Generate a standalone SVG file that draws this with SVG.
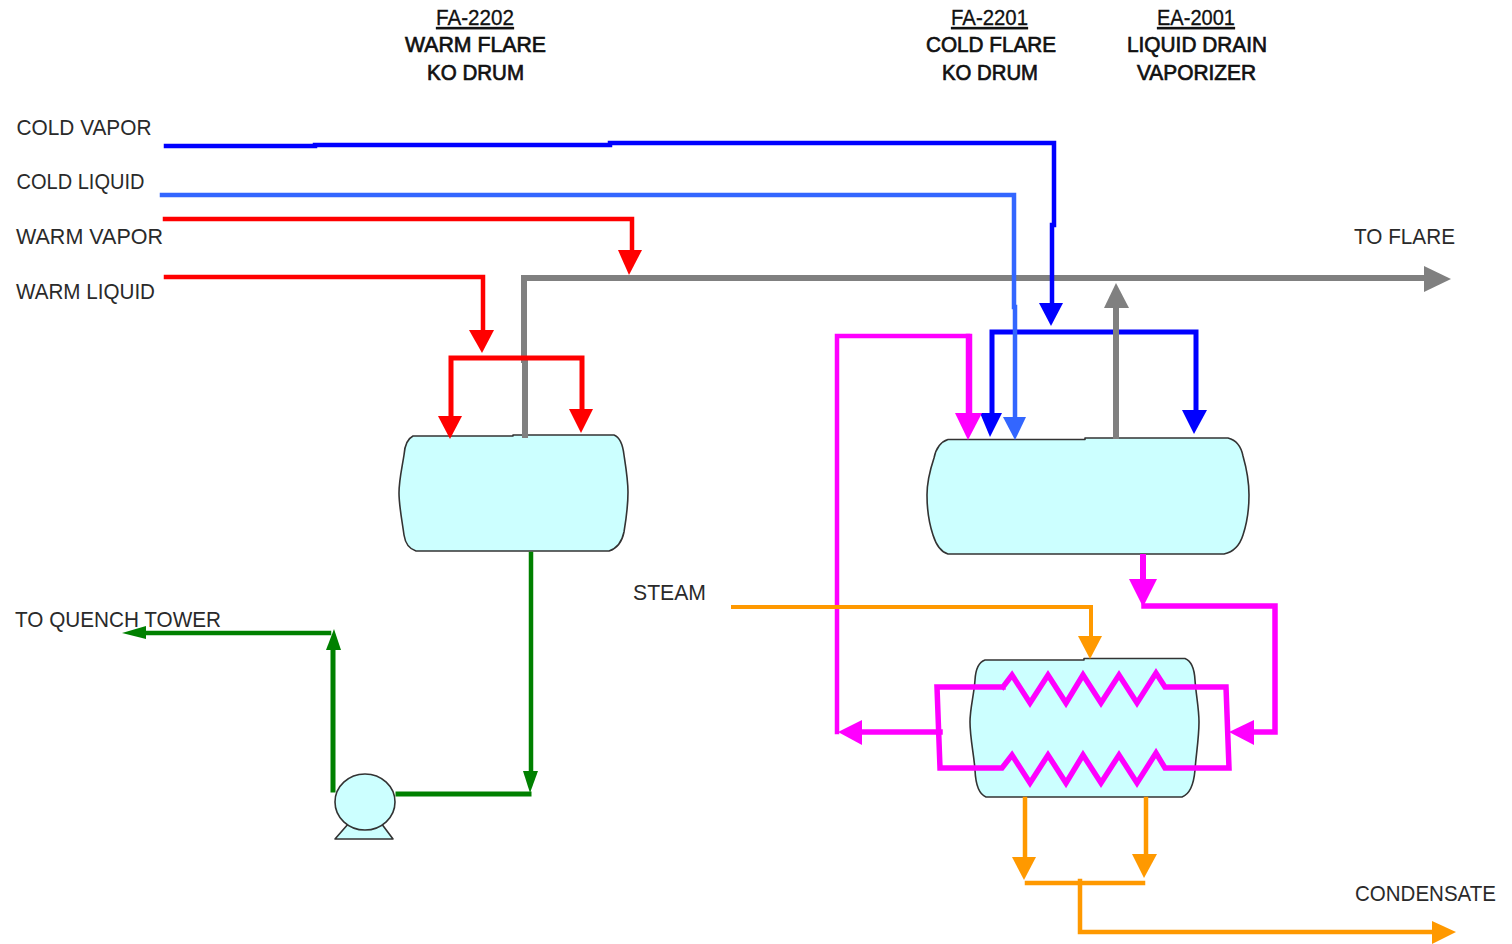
<svg xmlns="http://www.w3.org/2000/svg" width="1512" height="944" viewBox="0 0 1512 944">
<style>
text{font-family:"Liberation Sans",Arial,sans-serif;font-size:22px;fill:#2a2a2a}
.h{fill:#111;stroke:#111;stroke-width:.7}
.u{text-decoration:underline;stroke-width:.3}
.vessel{fill:#ccffff;stroke:#333;stroke-width:1.6;stroke-linejoin:round}
path.l{fill:none;stroke-linejoin:miter;stroke-linecap:square}
.red{stroke:#ff0000;fill:#ff0000}
.blue{stroke:#0000ff;fill:#0000ff}
.lblue{stroke:#3366ff;fill:#3366ff}
.grey{stroke:#808080;fill:#808080}
.pink{stroke:#ff00ff;fill:#ff00ff}
.orange{stroke:#ff9900;fill:#ff9900}
.green{stroke:#008000;fill:#008000}
polygon{stroke:none}
</style>
<rect width="1512" height="944" fill="#ffffff"/>
<g id="labels">
<g id="tag-fa2202"><text class="h u" x="436" y="25" textLength="78" lengthAdjust="spacingAndGlyphs">FA-2202</text><text class="h" x="405" y="52" textLength="141" lengthAdjust="spacingAndGlyphs">WARM FLARE</text><text class="h" x="427" y="80" textLength="97" lengthAdjust="spacingAndGlyphs">KO DRUM</text></g>
<g id="tag-fa2201"><text class="h u" x="951" y="25" textLength="77" lengthAdjust="spacingAndGlyphs">FA-2201</text><text class="h" x="926" y="52" textLength="130" lengthAdjust="spacingAndGlyphs">COLD FLARE</text><text class="h" x="942" y="80" textLength="96" lengthAdjust="spacingAndGlyphs">KO DRUM</text></g>
<g id="tag-ea2001"><text class="h u" x="1157" y="25" textLength="78" lengthAdjust="spacingAndGlyphs">EA-2001</text><text class="h" x="1127" y="52" textLength="140" lengthAdjust="spacingAndGlyphs">LIQUID DRAIN</text><text class="h" x="1137" y="80" textLength="119" lengthAdjust="spacingAndGlyphs">VAPORIZER</text></g>
<text x="16.500" y="135" textLength="135" lengthAdjust="spacingAndGlyphs">COLD VAPOR</text>
<text x="16.500" y="189" textLength="128" lengthAdjust="spacingAndGlyphs">COLD LIQUID</text>
<text x="16" y="244" textLength="147" lengthAdjust="spacingAndGlyphs">WARM VAPOR</text>
<text x="16" y="299" textLength="139" lengthAdjust="spacingAndGlyphs">WARM LIQUID</text>
<text x="1354" y="244" textLength="101" lengthAdjust="spacingAndGlyphs">TO FLARE</text>
<text x="15" y="627" textLength="206" lengthAdjust="spacingAndGlyphs">TO QUENCH TOWER</text>
<text x="633" y="600" textLength="73" lengthAdjust="spacingAndGlyphs">STEAM</text>
<text x="1355" y="901" textLength="141" lengthAdjust="spacingAndGlyphs">CONDENSATE</text>
</g>
<g id="FA-2202"><path class="vessel" d="M413,436 L513,436 L513,435 L614,435 Q622,438 624,455 C626,468 628,480 628,492 C628,506 626,520 624,532 Q621,547 609,551 L416,551 Q406,548 404,535 C402,520 399,506 399,493 C399,480 402,468 404,455 Q405,440 413,436 Z"/></g>
<g id="FA-2201"><path class="vessel" d="M948,439.500 L1085,439.500 L1085,438 L1228,438 Q1240,441 1243,456 C1247,470 1249,482 1249,495 C1249,510 1247,523 1243,535 Q1238,551 1224,554 L948,554 Q938,551 933,535 C929,523 927,510 927,495 C927,482 930,470 934,458 Q937,443 948,439.500 Z"/></g>
<g id="EA-2001"><path class="vessel" d="M985,660 L1084,660 L1084,658.500 L1185,658.500 Q1194,662 1195,680 C1196,695 1199,708 1199,722 C1199,738 1196,755 1195,770 Q1193,793 1182,797 L986,797 Q976,793 975,770 C974,755 970,738 970,722 C970,708 974,695 975,680 Q976,663 985,660 Z"/></g>
<g id="pump"><path class="vessel" d="M349,823 L335,839 L393,839 L381,823 Z"/><ellipse class="vessel" cx="365" cy="802" rx="30" ry="28"/></g>
<g id="connectors">
<g id="grey-lines" class="grey">
<path class="l" stroke-width="6" d="M525,435 L525,360 L524,360 L524,278 L1426,278"/><polygon points="1424,266 1451,279 1424,292"/>
</g>
<g id="warm-vapor" class="red"><path class="l" stroke-width="4.500" d="M165,219 L632,219 L632,252"/><polygon points="618,250 642,250 629,275"/></g>
<g id="warm-liquid" class="red"><path class="l" stroke-width="4.500" d="M166,277 L483,277 L483,331"/><polygon points="469,330 494,330 482,353"/>
<path class="l" stroke-width="5" d="M451,418 L451,358 L582,358 L582,410"/><polygon points="438,416 462,416 450,439"/><polygon points="569,409 593,409 581,433"/></g>
<g id="cold-vapor" class="blue"><path class="l" stroke-width="4.500" d="M166,146 L315,146 L315,145 L610,145 L610,143 L1054,143 L1054,225 L1052,225 L1052,305"/><polygon points="1039,303 1063,303 1051,326"/>
<path class="l" stroke-width="5" d="M992,415 L992,332 L1196,332 L1196,412"/><polygon points="980,413 1002,413 990,437"/><polygon points="1182,410 1207,410 1194,434"/></g>
<g id="cold-liquid" class="lblue"><path class="l" stroke-width="4.500" d="M162,195 L1014,195 L1014,307 L1015,307 L1015,418"/><polygon points="1003,417 1026,417 1015,440"/></g>
<g id="vapor-return" class="grey"><path class="l" stroke-width="6" d="M1116,436 L1116,306"/><polygon points="1104,308 1129,308 1116,283"/></g>
<g id="drum-to-exchanger" class="pink"><path class="l" stroke-width="6" d="M1143,557 L1143,580"/><polygon points="1129,579 1157,579 1143,607"/>
<path class="l" stroke-width="5.500" d="M1144,606 L1275,606 L1275,732 L1252,732"/><polygon points="1254,720 1254,745 1229,732"/></g>
<g id="coils" class="pink"><path class="l" stroke-width="5.500" d="M1003,687 L937,687 L940,768 L1002,768 L1012,755 L1030,783 L1048,755 L1066,783 L1083,755 L1101,783 L1119,755 L1137,783 L1156,753 L1165,768 L1229,768 L1226,687 L1165,687 L1156,673 L1137,703 L1119,675 L1101,703 L1083,675 L1066,703 L1048,675 L1030,703 L1012,675 L1003,687"/></g>
<g id="exchanger-to-drum" class="pink"><path class="l" stroke-width="5.500" d="M940,732 L860,732"/><polygon points="862,720 862,745 838,732"/>
<path class="l" stroke-width="4.500" d="M837,732 L837,336 L968,336"/><path class="l" stroke-width="6.500" d="M969,337 L969,415"/><polygon points="955,413 982,413 968,440"/></g>
<g id="steam" class="orange"><path class="l" stroke-width="4" d="M733,607 L1091,607 L1091,638"/><polygon points="1078,636 1102,636 1090,659"/></g>
<g id="condensate" class="orange"><path class="l" stroke-width="4.500" d="M1025,799 L1025,858"/><polygon points="1012,857 1036,857 1024,880"/>
<path class="l" stroke-width="4.500" d="M1146,799 L1146,855"/><polygon points="1132,854 1157,854 1144,878"/>
<path class="l" stroke-width="4.500" d="M1027,883 L1143,883"/><path class="l" stroke-width="4.500" d="M1080,881 L1080,932 L1434,932"/><polygon points="1432,921 1456,932 1432,944"/></g>
<g id="green-line" class="green"><path class="l" stroke-width="4.500" d="M531,554 L531,772"/><polygon points="523,771 538,771 530,793"/>
<path class="l" stroke-width="5" d="M398,794 L529,794"/>
<path class="l" stroke-width="5" d="M333,790 L333,650"/><polygon points="326,650 341,650 334,629"/>
<path class="l" stroke-width="4.500" d="M329,633 L146,633"/><polygon points="146,626 146,639 122,633"/></g>
</g>
</svg>
